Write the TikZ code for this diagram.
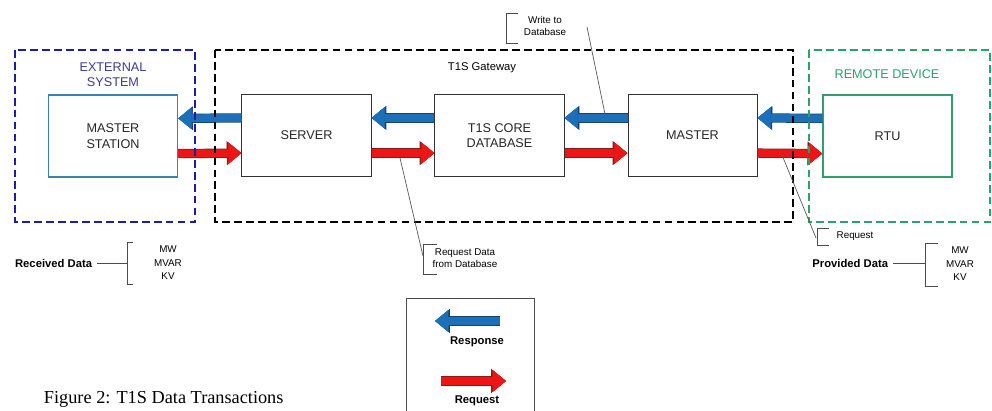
\documentclass[tikz,border=0pt]{standalone}
\usepackage{fontspec}
\setmainfont{Liberation Sans}
\newfontfamily\captionserif{Liberation Serif}
\usetikzlibrary{arrows.meta}

\definecolor{respblue}{RGB}{28,112,186}
\definecolor{respedge}{RGB}{24,64,112}
\definecolor{reqred}{RGB}{236,22,22}
\definecolor{reqedge}{RGB}{140,24,24}
\definecolor{extblue}{RGB}{30,30,165}
\definecolor{exttext}{RGB}{60,60,140}
\definecolor{stationblue}{RGB}{58,132,178}
\definecolor{remotegreen}{RGB}{46,160,110}

\tikzset{
  unit/.style={draw=black!80, line width=0.7pt, minimum width=3.225cm, minimum height=2.05cm,
    align=center, font=\fontsize{9}{11}\selectfont, text=black!85},
  zone/.style={line width=1.3pt, dash pattern=on 5.5pt off 3pt},
  response/.style={draw=respblue, line width=5.6pt,
    -{Triangle[width=15.6pt,length=9.5pt,line width=0.4pt]},
    preaction={draw=respedge, line width=6.6pt, -{Triangle[width=17pt,length=10.5pt,line width=0.4pt]}}},
  request/.style={draw=reqred, line width=5.6pt,
    -{Triangle[width=15.6pt,length=9.5pt,line width=0.4pt]},
    preaction={draw=reqedge, line width=6.6pt, -{Triangle[width=17pt,length=10.5pt,line width=0.4pt]}}},
  note/.style={font=\fontsize{7}{8.6}\selectfont, align=center},
  datalist/.style={font=\fontsize{7}{9.6}\selectfont, align=center},
  heading/.style={font=\bfseries\fontsize{8}{10}\selectfont},
  leader/.style={draw=black!65, line width=0.5pt},
  bracket/.style={draw=black!70, line width=0.7pt},
}

\begin{document}
\begin{tikzpicture}[x=0.025cm, y=-0.025cm]
    % Offset of the two flow lanes from the box centres
    \def\lane{4.4mm}

    \useasboundingbox (0,0) rectangle (992,411);

    % Draw the units
    \node[unit, draw=stationblue, line width=1pt] (mstation) at (113,136) {MASTER\\STATION};
    \node[unit] (server) at (306.5,135.5) {SERVER};
    \node[unit] (core) at (499.5,135.5) {T1S CORE\\DATABASE};
    \node[unit] (master) at (692.5,135.5) {MASTER};
    \node[unit, draw=remotegreen, line width=1pt] (rtu) at (887.5,136) {RTU};

    % Responses flow to the left
    \draw[response] ([yshift=\lane]server.west) -- ([yshift=\lane]mstation.east);
    \draw[response] ([yshift=\lane]core.west) -- ([yshift=\lane]server.east);
    \draw[response] ([yshift=\lane]master.west) -- ([yshift=\lane]core.east);
    \draw[response] ([yshift=\lane]rtu.west) -- ([yshift=\lane]master.east);

    % Requests flow to the right
    \draw[request] ([yshift=-\lane]mstation.east) -- ([yshift=-\lane]server.west);
    \draw[request] ([yshift=-\lane]server.east) -- ([yshift=-\lane]core.west);
    \draw[request] ([yshift=-\lane]core.east) -- ([yshift=-\lane]master.west);
    \draw[request] ([yshift=-\lane]master.east) -- ([yshift=-\lane]rtu.west);

    % Draw the system boundaries
    \draw[zone, extblue] (15,50) rectangle (195,222);
    \draw[zone, black] (215,50) rectangle (793,222);
    \draw[zone, remotegreen] (809,50) rectangle (990,222);

    \node[font=\fontsize{9}{10.6}\selectfont, text=exttext, align=center] (exttitle) at (113,75) {EXTERNAL\\SYSTEM};
    \node[font=\fontsize{8}{10}\selectfont] (gwtitle) at (482,68) {T1S Gateway};
    \node[font=\fontsize{9}{10.6}\selectfont, text=remotegreen] (remtitle) at (887,74) {REMOTE DEVICE};

    % Callouts
    \node[note] (write) at (545,26) {Write to\\Database};
    \coordinate (writeend) at (587,27);
    \coordinate (writeon) at (605,114);
    \draw[bracket] (518,13) -- (506,13) -- (506,43) -- (518,43);
    \draw[leader] (writeend) -- (writeon);

    \node[note] (fetch) at (465,258) {Request Data\\from Database};
    \coordinate (fetchon) at (400,158);
    \coordinate (fetchend) at (423,256);
    \draw[bracket] (437,244) -- (423,244) -- (423,274) -- (437,274);
    \draw[leader] (fetchon) -- (fetchend);

    \node[note] (ask) at (855,236) {Request};
    \coordinate (askon) at (782,155);
    \coordinate (askend) at (816,238);
    \draw[bracket] (829,228) -- (817,228) -- (817,245) -- (829,245);
    \draw[leader] (askon) -- (askend);

    % Received and provided data
    \node[heading, anchor=east] (received) at (97,263) {Received Data};
    \coordinate (recvbrk) at (127,263);
    \draw[bracket] (received.east) -- (recvbrk);
    \draw[bracket] (133,242) -- (127,242) -- (127,284) -- (133,284);
    \node[datalist] (recvvals) at (168,263) {MW\\MVAR\\KV};

    \node[heading, anchor=east] (provided) at (893,263) {Provided Data};
    \coordinate (provbrk) at (925,263);
    \draw[bracket] (provided.east) -- (provbrk);
    \draw[bracket] (938,243) -- (925,243) -- (925,286) -- (938,286);
    \node[datalist] (provvals) at (960,264) {MW\\MVAR\\KV};

    % Legend
    \draw[draw=black!70, line width=0.7pt] (406,411) -- (406,298) -- (534,298) -- (534,411);
    \coordinate (respfrom) at (500,321);
    \coordinate (respto) at (435,321);
    \coordinate (reqfrom) at (441,381);
    \coordinate (reqto) at (506,381);
    \draw[response] (respfrom) -- (respto);
    \draw[request] (reqfrom) -- (reqto);
    \node[heading] (resplabel) at (477,342) {Response};
    \node[heading] (reqlabel) at (477,401) {Request};

    % Caption
    \node[font=\captionserif\fontsize{13}{15}\selectfont, anchor=base west] (caption) at (39,404) {Figure 2: T1S Data Transactions};
\end{tikzpicture}
\end{document}
